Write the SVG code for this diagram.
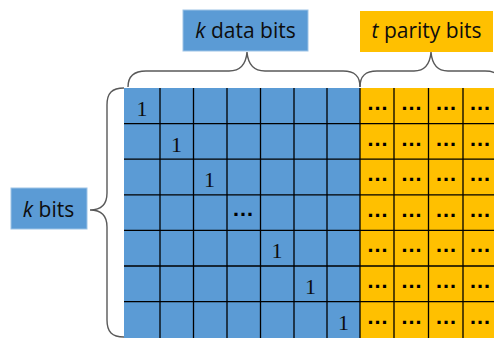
<svg xmlns="http://www.w3.org/2000/svg" width="494" height="338" viewBox="0 0 494 338">
<style>
.lbl{font-family:"Open Sans","Liberation Sans",sans-serif;font-size:21px;fill:#0d0d0d}
.one{font-family:"Liberation Serif","DejaVu Serif",serif;font-size:22px;fill:#0d0d0d;text-anchor:middle}
.dt{font-family:"Liberation Sans",sans-serif;font-size:22px;font-weight:bold;fill:#000;text-anchor:middle}
.grid{stroke:#000;stroke-width:1.3;fill:none}
.brace{stroke:#595959;stroke-width:1.4;fill:none}
</style>
<rect width="494" height="338" fill="#fff"/>
<g id="data-block">
<rect x="124" y="88" width="236" height="250" fill="#5B9BD5"/>
</g>
<g id="parity-block">
<rect x="360" y="88" width="134" height="250" fill="#FFC000"/>
</g>
<g id="grid" class="grid">
<path d="M160,88V338M193.5,88V338M227,88V338M260.5,88V338M294,88V338M327,88V338M360,88V338M394,88V338M428.5,88V338M463,88V338"/>
<path d="M124,123.6H494M124,159.2H494M124,194.8H494M124,230.4H494M124,266H494M124,301.6H494"/>
</g>
<g id="diagonal">
<text class="one" x="142" y="116">1</text>
<text class="one" x="176.5" y="151.6">1</text>
<text class="one" x="209.5" y="187.2">1</text>
<text class="dt" x="243" y="216">…</text>
<text class="one" x="277" y="258.4">1</text>
<text class="one" x="310.5" y="294">1</text>
<text class="one" x="343.5" y="329.6">1</text>
</g>
<g id="parity-dots">
<text class="dt" x="377.5" y="110">…</text><text class="dt" x="411.5" y="110">…</text><text class="dt" x="446" y="110">…</text><text class="dt" x="480" y="110">…</text>
<text class="dt" x="377.5" y="145.6">…</text><text class="dt" x="411.5" y="145.6">…</text><text class="dt" x="446" y="145.6">…</text><text class="dt" x="480" y="145.6">…</text>
<text class="dt" x="377.5" y="181.2">…</text><text class="dt" x="411.5" y="181.2">…</text><text class="dt" x="446" y="181.2">…</text><text class="dt" x="480" y="181.2">…</text>
<text class="dt" x="377.5" y="216.8">…</text><text class="dt" x="411.5" y="216.8">…</text><text class="dt" x="446" y="216.8">…</text><text class="dt" x="480" y="216.8">…</text>
<text class="dt" x="377.5" y="252.4">…</text><text class="dt" x="411.5" y="252.4">…</text><text class="dt" x="446" y="252.4">…</text><text class="dt" x="480" y="252.4">…</text>
<text class="dt" x="377.5" y="288">…</text><text class="dt" x="411.5" y="288">…</text><text class="dt" x="446" y="288">…</text><text class="dt" x="480" y="288">…</text>
<text class="dt" x="377.5" y="323.6">…</text><text class="dt" x="411.5" y="323.6">…</text><text class="dt" x="446" y="323.6">…</text><text class="dt" x="480" y="323.6">…</text>
</g>
<g id="connectors">
<path class="brace" d="M128,87 C128,76 134,71 146,71 L229,71 C240,71 246,64 247,52 C248,64 254,71 265,71 L343,71 C355,71 360,76 360,87"/>
<path class="brace" d="M360,87 C360,76 365,71 377,71 L414,71 C425,71 430,64 431,52 C432,64 437,71 448,71 L485,71 C497,71 502,76 502,87"/>
<path class="brace" d="M124,88 C112,88 107,93 107,105 L107,193 C107,204 101,210 90,210 C101,210 107,216 107,227 L107,320 C107,332 112,337 124,337"/>
</g>
<g id="label-k-data">
<rect x="183" y="10" width="125" height="41" fill="#5B9BD5" stroke="#9dc3e6" stroke-width="1"/>
<text class="lbl" x="245.5" y="38" text-anchor="middle"><tspan font-style="italic">k</tspan> data bits</text>
</g>
<g id="label-t-parity">
<rect x="360" y="11" width="133" height="41" fill="#FFC000"/>
<text class="lbl" x="426.5" y="38" text-anchor="middle"><tspan font-style="italic">t</tspan> parity bits</text>
</g>
<g id="label-k-bits">
<rect x="11" y="188" width="76" height="41" fill="#5B9BD5" stroke="#9dc3e6" stroke-width="1"/>
<text class="lbl" x="48.5" y="216.5" text-anchor="middle"><tspan font-style="italic">k</tspan> bits</text>
</g>
</svg>
